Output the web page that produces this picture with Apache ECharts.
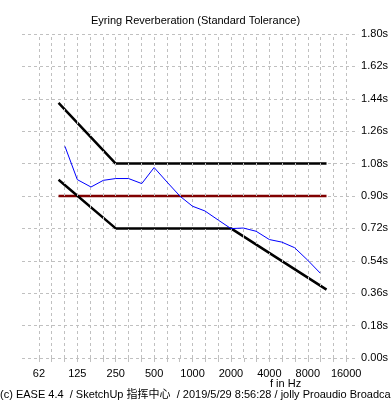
<!DOCTYPE html>
<html><head><meta charset="utf-8">
<script src="https://cdn.jsdelivr.net/npm/echarts@6/dist/echarts.min.js"></script>
<style>html,body{margin:0;padding:0;background:#fff}#c{width:391px;height:411px}</style>
</head><body><div id="c"></div>
<script>
// x labels at octave steps (62.5 Hz * 2^k)
const octaveLabels = ['62','125','250','500','1000','2000','4000','8000','16000'];
const refFreq = 62.5;
// measured Eyring reverberation (1/3 octave bands)
const measuredFreq = [100,125,160,200,250,315,400,500,630,800,1000,1250,1600,2000,2500,3150,4000,5000,6300,8000,10000];
const measuredT    = [1.176,0.991,0.95,0.987,0.997,0.997,0.969,1.058,0.978,0.898,0.843,0.817,0.765,0.719,0.722,0.704,0.658,0.644,0.613,0.543,0.472];
// tolerance limits
const upperFreq = [89.1, 250, 11220];
const upperT    = [1.417, 1.08, 1.08];
const lowerFreq = [89.1, 250, 2000, 11220];
const lowerT    = [0.99, 0.72, 0.72, 0.38];
const targetFreq = [89.1, 11220];
const targetT    = [0.90, 0.90];

const oct = f => Math.log2(f / refFreq);
const pts = (fs, ts) => fs.map((f, i) => [oct(f), ts[i]]);
const thirds = []; for (let k = 0; k <= 24; k++) thirds.push(k / 3);
const whole = []; for (let k = 0; k <= 8; k++) whole.push(k);

const FONT = 'Liberation Sans';
const chart = echarts.init(document.getElementById('c'), null, {renderer: 'canvas'});
chart.setOption({
  animation: false,
  backgroundColor: '#fff',
  grid: {left: 22, right: 28, top: 34, bottom: 53},
  xAxis: {
    type: 'value', min: -0.44, max: 8.31,
    axisLine: {show: false},
    splitLine: {show: false},
    axisTick: {show: true, customValues: thirds, length: 4, lineStyle: {color: '#c0c0c0'}},
    axisLabel: {customValues: whole, formatter: v => octaveLabels[Math.round(v)], color: '#000',
      fontFamily: FONT, fontSize: 11, margin: 10}
  },
  yAxis: {
    type: 'value', position: 'right', min: 0, max: 1.8, interval: 0.18,
    axisLine: {show: false}, axisTick: {show: false},
    axisLabel: {formatter: v => v.toFixed(2) + 's', color: '#000', fontFamily: FONT, fontSize: 11, margin: 3},
    splitLine: {show: true, lineStyle: {color: '#c0c0c0', type: [3, 3], width: 1}}
  },
  graphic: [
    {type: 'text', left: 'center', top: 15, style: {text: 'Eyring Reverberation (Standard Tolerance)', fill: '#000', font: '11px "Liberation Sans"'}},
    {type: 'text', left: 270, top: 378, style: {text: 'f in Hz', fill: '#000', font: '11px "Liberation Sans"'}},
    {type: 'text', left: 0, top: 389, style: {text: '(c) EASE 4.4  / SketchUp 指挥中心  / 2019/5/29 8:56:28 / jolly Proaudio Broadcast', fill: '#000', font: '11px "Liberation Sans", "Noto Sans CJK SC"'}}
  ],
  series: [
    {type: 'line', data: [], silent: true,
      markLine: {silent: true, symbol: 'none', label: {show: false},
        lineStyle: {color: '#c0c0c0', type: [3, 3], width: 1},
        data: thirds.map(v => ({xAxis: v}))}},
    {type: 'line', data: pts(targetFreq, targetT), symbol: 'none', lineStyle: {color: '#800000', width: 2.5}, z: 3},
    {type: 'line', data: pts(upperFreq, upperT), symbol: 'none', lineStyle: {color: '#000', width: 2.5}, z: 4},
    {type: 'line', data: pts(lowerFreq, lowerT), symbol: 'none', lineStyle: {color: '#000', width: 2.5}, z: 4},
    {type: 'line', data: pts(measuredFreq, measuredT), symbol: 'none', lineStyle: {color: '#0000ff', width: 1}, z: 5}
  ]
});
</script></body></html>
